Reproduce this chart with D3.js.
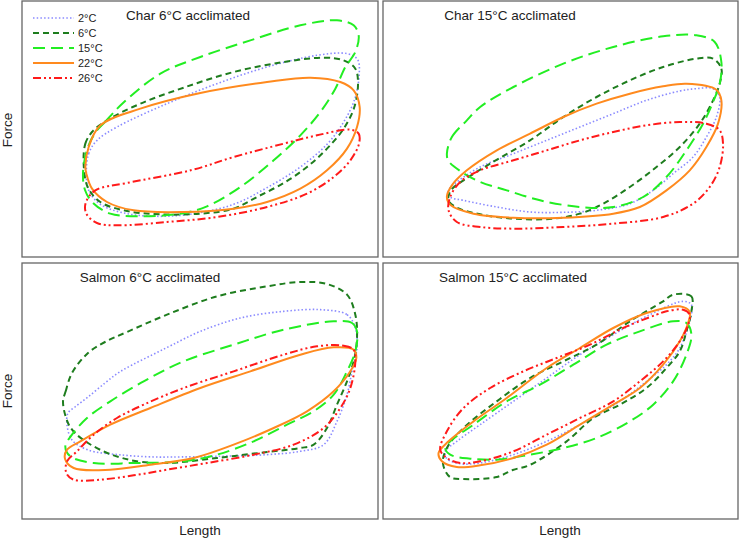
<!DOCTYPE html>
<html>
<head>
<meta charset="utf-8">
<script src="https://cdn.jsdelivr.net/npm/d3@7"></script>
<style>
  body { margin: 0; background: #fff; }
  text { font-family: "Liberation Sans", Arial, sans-serif; fill: #222; }
</style>
</head>
<body>
<svg id="chart"></svg>
<script>
// temperatures (test temperature of each work loop)
const temps = ['2°C', '6°C', '15°C', '22°C', '26°C'];
const panelTitles = ['Char 6°C acclimated', 'Char 15°C acclimated', 'Salmon 6°C acclimated', 'Salmon 15°C acclimated'];

// work loops, [length, force] in arbitrary units
const char6_2 = [[25.8,28],[26.5,34],[29,38],[35,42],[50,49],[65,55],[80,60],[95,63.5],[104,64],[107.2,62.2],[107.6,57],[106.2,50],[103,43.5],[98,36.8],[90,30],[80,23.8],[70,18.8],[58,16],[48,15.2],[38,16],[30,18.8],[26.5,23]];
const char6_6 = [[25,31],[25.5,37],[27.5,40.5],[32,44],[42,49],[55,53.8],[70,58.5],[85,61.5],[97,62.8],[103,62],[106.5,59.5],[107.3,55],[106.2,48],[103,41.5],[98,35.5],[92,30],[85,25.2],[77,21],[70,17.5],[60,16],[48,15.8],[38,16.8],[30,19.5],[26.2,24]];
const char6_15 = [[28.4,40.2],[31.4,43.5],[36.8,49.2],[48,58],[60,63],[75,68],[90,72.5],[101,74],[106,72.5],[107.5,69.5],[106.5,64.5],[103.5,60],[100.5,53.5],[96,46.5],[90,39.5],[82,32],[72,24],[62,18.2],[54,16],[42,15.2],[33,16],[27.8,19.2],[25.4,23.1],[24.8,28.2],[26,35.1]];
const char6_22 = [[25.5,30],[26.5,36],[30,42.5],[42,47.5],[60,52.2],[80,55.5],[93,56.8],[102,55.5],[106,53],[107.8,48],[107,42],[104,35.5],[98,29],[90,23.5],[80,19.5],[70,17.5],[55,16.5],[40,17],[32,19.5],[27.5,23.5],[25.8,28]];
const char6_26 = [[105,41.2],[107.5,40],[107.6,37],[105,32],[100,27],[92,22],[80,18],[65,15],[50,13.5],[35,12.5],[29,13.2],[25.8,16],[25.6,19.2],[28.5,23],[38,25.2],[57.5,29.1],[70,33],[85,37],[95,39.5]];

const char15_2 = [[95,53.5],[100,53.5],[102,51],[101,45],[98,39],[94,33],[88,28],[82,23],[75,19],[65,17],[55,16.4],[45,16.5],[35,18],[25,20],[21,21],[20.5,23],[23,25.5],[30,30],[40,34],[50,38],[60,42],[70,46],[80,50],[90,52.8]];
const char15_6 = [[100,62.5],[102.5,59.5],[102,55],[100,50],[96,43],[90,36],[83,30],[75,24],[67,19],[60,16],[52,14.5],[40,14.5],[30,15.8],[23,17.8],[20.5,20],[21.2,23],[25,26],[33,31],[45,38],[55,45],[65,51],[75,56],[85,60],[95,62.5]];
const char15_15 = [[20,34],[21.5,39],[26,44],[30,48],[40,54],[55,61],[70,66],[85,69.2],[95,69.5],[100.5,67.5],[102.5,61.5],[102,55],[100,49.5],[97,43],[92,35],[86,27],[79,21],[70,18],[60,18],[48,20],[38,23],[30,25.5],[24,28.8],[20.5,31.8]];
const char15_22 = [[92,55],[101,53.2],[102.5,50],[101.5,43],[98,36],[93,29],[86,23],[78,18],[70,16],[55,14.8],[40,14.8],[28,16],[21.2,18.5],[20,21],[21.5,24.5],[26,29],[35,35],[45,40],[55,45],[65,49],[75,52],[85,54.2]];
const char15_26 = [[90,43.5],[98,43],[102,41],[103,37],[102,30],[99,24],[94,19],[85,15],[70,13],[55,12],[40,11.5],[30,12],[23,13.5],[20.5,17],[21,21],[24,25.5],[30,29],[40,32],[50,35],[60,38],[70,40.5],[80,42.5]];

const salmon6_2 = [[96,63.5],[104,62],[106.5,58],[107,52],[105.5,45],[104,38],[101,30],[97,23],[90,21],[80,20],[65,19.5],[51.5,19.3],[46.4,19.3],[36.5,19.9],[26.3,21.4],[21.5,24.4],[20,29],[20.3,32.5],[22.4,34.3],[26.3,37.3],[31.4,41.5],[35.3,44.5],[39.5,46.9],[45.5,49.9],[51.5,52.9],[60,57],[72,61],[85,63]];
const salmon6_6 = [[18.8,35.8],[19.6,39],[21.5,44.5],[26.3,50.5],[31.4,53.8],[38,56.8],[50,62],[65,67.5],[80,70.5],[90,71.8],[98,71.2],[104,68],[106.5,62],[107,55],[106,48],[104,42],[101,35],[98,28],[94,23],[90,22],[80,20.8],[65,19],[50.3,17.5],[42.5,17.8],[36.5,19],[31.4,20.8],[26.3,23.5],[22.4,26.5],[20.3,29.5]];
const salmon6_15 = [[100,60],[105.5,59.5],[107,57],[106.5,51],[104,45],[100,38],[94,33],[86,29],[76,24],[65,20],[55,18],[40,17.5],[28,17.5],[21,19.5],[19.5,22.5],[21.5,26],[26,31],[33,36],[43,42],[55,48],[70,53],[85,57.5]];
const salmon6_22 = [[100,52.2],[106,51.5],[106.8,49],[105,45],[100,39],[92,33],[82,28],[70,23],[58,19],[45,17],[33,15.5],[22,16],[19.4,18.8],[20,21.5],[24,24],[33,29],[45,34],[60,40],[75,45],[90,50]];
const salmon6_26 = [[95,52.5],[103,52.7],[106,51.5],[106.5,48],[105,40],[102,34],[97,28],[88,23],[76,20],[62,17.5],[50,15.5],[40,13.8],[30,12.5],[22,12.5],[19.8,14.5],[20,18],[23,21],[28,26],[35,31],[43,35],[55,40],[70,45],[85,50]];

const salmon15_2 = [[91,66],[93.5,65],[93,60],[90,52],[86,47],[80,42],[72,36],[60,29],[50,24],[40,20],[30,17.5],[24,17.3],[20,18.8],[19.5,21],[23,24],[30,29],[40,36],[50,43],[60,50],[70,56],[80,61.5]];
const salmon15_6 = [[88,68],[93.5,67.5],[93.5,63],[92,57],[90,51],[86,46],[80,40],[72,35],[64,31],[56,24],[44.9,16.9],[39.8,15.4],[35,13.3],[24.8,12.7],[20.9,13.3],[18.8,17.5],[20,22],[25,28],[35,36],[45,43],[55,48],[65,53],[75,60],[85,66]];
const salmon15_15 = [[88,60],[92,59.5],[93.5,56],[92,50],[88,42],[82,35],[75,30],[65,25],[55,22],[45,20],[35,18.5],[27,18.8],[21,20],[19.5,22],[21,24],[28,29],[38,36],[48,41],[58,47],[68,53],[78,57]];
const salmon15_22 = [[90,64.5],[93,62.8],[92.5,59.5],[90,54],[85,47],[78,40],[70,35],[60,29],[50,23],[40,19],[30,16.8],[23,16.3],[18.5,18],[17.5,20.5],[20.5,24],[28,30],[38,37],[50,46],[60,52],[70,58],[80,62.5]];
const salmon15_26 = [[86,63],[91,63.5],[93,62],[92.5,59],[90,54],[85,48],[78,42],[70,36],[60,31],[50,26],[40,21],[30,18],[24,17.5],[20,19],[18,21.5],[20,27],[25,34],[33,40],[43,45],[53,49],[63,53],[73,58],[83,62]];

const loops = [
  [char6_2, char6_6, char6_15, char6_22, char6_26],
  [char15_2, char15_6, char15_15, char15_22, char15_26],
  [salmon6_2, salmon6_6, salmon6_15, salmon6_22, salmon6_26],
  [salmon15_2, salmon15_6, salmon15_15, salmon15_22, salmon15_26]
];

const styles = [
  { color: '#8a8aff', dash: '1.5,2.2', width: 1.6 },
  { color: '#1e7d1e', dash: '6,4', width: 2 },
  { color: '#22ee22', dash: '12,6', width: 2 },
  { color: '#ff8a1e', dash: null, width: 2 },
  { color: '#ff1a1a', dash: '8,3,2,3,2,3', width: 2 }
];

const width = 740, height = 543;
const svg = d3.select('#chart').attr('width', width).attr('height', height);

const cols = [[22, 378], [383, 738]];
const rows = [[1, 257], [263, 519]];
const xDom = [[6.5, 113.3], [0.8, 107.5]];
const yDom = [[3.0, 79.8], [0.7, 77.5]];
const titleX = [188, 510, 150, 513];

loops.forEach((set, i) => {
  const c = i % 2, r = Math.floor(i / 2);
  const [x0, x1] = cols[c], [y0, y1] = rows[r];
  const g = svg.append('g');

  const x = d3.scaleLinear().domain(xDom[c]).range([x0, x1]);
  const y = d3.scaleLinear().domain(yDom[r]).range([y1, y0]);

  g.append('rect')
    .attr('x', x0).attr('y', y0)
    .attr('width', x1 - x0).attr('height', y1 - y0)
    .attr('fill', 'none').attr('stroke', '#666').attr('stroke-width', 1.3);

  const line = d3.line()
    .x(d => x(d[0])).y(d => y(d[1]))
    .curve(d3.curveCatmullRomClosed.alpha(0.5));

  set.forEach((pts, k) => {
    g.append('path')
      .attr('d', line(pts))
      .attr('fill', 'none')
      .attr('stroke', styles[k].color)
      .attr('stroke-width', styles[k].width)
      .attr('stroke-dasharray', styles[k].dash);
  });

  g.append('text')
    .attr('x', titleX[i])
    .attr('y', y0 + 19)
    .attr('text-anchor', 'middle')
    .attr('font-size', 13.5)
    .text(panelTitles[i]);
});

// axis titles
[130, 391].forEach(cy => {
  svg.append('text')
    .attr('transform', `translate(12,${cy}) rotate(-90)`)
    .attr('text-anchor', 'middle')
    .attr('font-size', 13.5)
    .text('Force');
});
[200, 560].forEach(cx => {
  svg.append('text')
    .attr('x', cx).attr('y', 535)
    .attr('text-anchor', 'middle')
    .attr('font-size', 13.5)
    .text('Length');
});

// legend
const ly = d3.scaleLinear().domain([0, 4]).range([18, 78]);
temps.forEach((t, k) => {
  svg.append('line')
    .attr('x1', 33).attr('x2', 74)
    .attr('y1', ly(k)).attr('y2', ly(k))
    .attr('stroke', styles[k].color)
    .attr('stroke-width', styles[k].width)
    .attr('stroke-dasharray', styles[k].dash);
  svg.append('text')
    .attr('x', 78).attr('y', ly(k) + 4)
    .attr('font-size', 11)
    .attr('fill', '#444')
    .text(t);
});
</script>
</body>
</html>
